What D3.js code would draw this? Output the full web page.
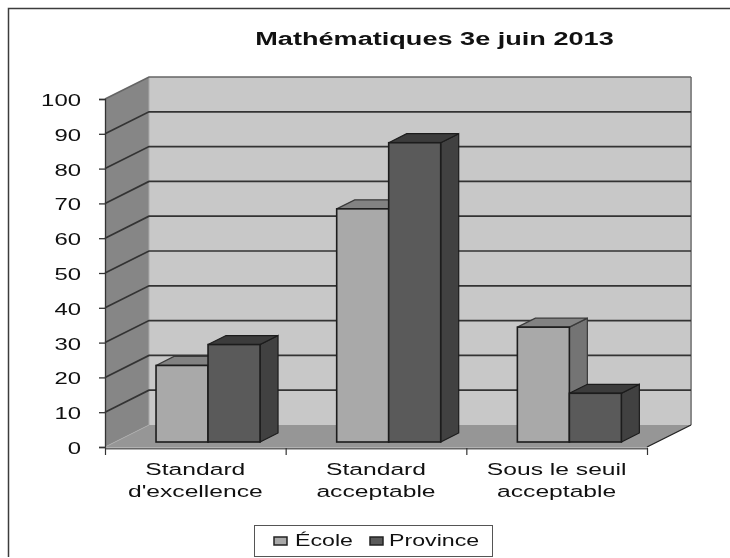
<!DOCTYPE html>
<html><head><meta charset="utf-8">
<script src="https://cdn.jsdelivr.net/npm/d3@7"></script>
<style>
html,body{margin:0;padding:0;background:#fff}
svg{display:block;filter:blur(0.5px)}
text{font-family:"Liberation Sans",Arial,sans-serif;fill:#111}
</style></head><body>
<svg id="c" width="730" height="558"></svg>
<script>
const title = "Mathématiques 3e juin 2013";
const categories = [["Standard","d'excellence"],["Standard","acceptable"],["Sous le seuil","acceptable"]];
const seriesNames = ["École","Province"];
const ecole = [22,67,33];
const province = [28,86,14];
const yTicks = [0,10,20,30,40,50,60,70,80,90,100];
const faces = {
  "École":{front:"#a9a9a9",top:"#828282",side:"#747474",edge:"#3a3a3a"},
  "Province":{front:"#5a5a5a",top:"#3c3c3c",side:"#414141",edge:"#1c1c1c"}
};
const STRETCH = 1.45;
const svg = d3.select("#c");
const y = d3.scaleLinear().domain([0,100]).range([447,99]);
const x = d3.scaleBand().domain(d3.range(categories.length)).range([105,647]);
const depth = {x:44,y:-22};
const barD = {x:18,y:-9};
const barShift = {x:12.7,y:-5};
const barW = 52;
const stretched = (px,py,size,txt,anchor,weight)=>svg.append("text")
  .attr("transform",`translate(${px},${py}) scale(${STRETCH},1)`)
  .attr("text-anchor",anchor).attr("font-size",size).attr("font-weight",weight||"normal").text(txt);

// frame: top and left rules only
svg.append("path").attr("d","M730,8.5H8.5V557").attr("fill","none").attr("stroke","#3c3c3c").attr("stroke-width",1.5);

const poly = (pts,fill,stroke,sw)=>svg.append("polygon").attr("points",pts.map(p=>p.join(",")).join(" "))
  .attr("fill",fill).attr("stroke",stroke||"none").attr("stroke-width",sw||1);
const x0=105,x1=647;
poly([[x0,y(0)],[x0,y(100)],[x0+depth.x,y(100)+depth.y],[x0+depth.x,y(0)+depth.y]],"#868686");
poly([[x0+depth.x,y(0)+depth.y],[x0+depth.x,y(100)+depth.y],[x1+depth.x,y(100)+depth.y],[x1+depth.x,y(0)+depth.y]],"#c8c8c8");
poly([[x0,y(0)],[x0+depth.x,y(0)+depth.y],[x1+depth.x,y(0)+depth.y],[x1,y(0)]],"#969696");
svg.append("path").attr("d",`M${x0+depth.x},${y(0)+depth.y}V${y(100)+depth.y}`).attr("stroke","#aaa").attr("fill","none");
svg.append("path").attr("d",`M${x1+depth.x},${y(0)+depth.y}V${y(100)+depth.y}`).attr("stroke","#8a8a8a").attr("stroke-width",2).attr("fill","none");

yTicks.forEach(t=>{
  if(t===0){
    svg.append("path").attr("d",`M${x0},${y(0)}L${x0+depth.x},${y(0)+depth.y}`).attr("stroke","#aaa").attr("fill","none");
    svg.append("path").attr("d",`M${x1},${y(0)}L${x1+depth.x},${y(0)+depth.y}`).attr("stroke","#222").attr("stroke-width",1.3).attr("fill","none");
    return;
  }
  svg.append("path").attr("d",`M${x0},${y(t)}L${x0+depth.x},${y(t)+depth.y}H${x1+depth.x}`)
    .attr("stroke",t===100?"#666":"#333").attr("stroke-width",1.7).attr("fill","none");
});

const drawBar=(cat,i,v,name)=>{
  const c=faces[name];
  const left=x(cat)+x.bandwidth()/2+barShift.x-barW+i*barW;
  const right=left+barW;
  const b=y(0)+barShift.y, t=y(v)+barShift.y;
  poly([[right,b],[right,t],[right+barD.x,t+barD.y],[right+barD.x,b+barD.y]],c.side,c.edge,1.2);
  poly([[left,t],[left+barD.x,t+barD.y],[right+barD.x,t+barD.y],[right,t]],c.top,c.edge,1.2);
  svg.append("rect").attr("x",left).attr("y",t).attr("width",barW).attr("height",b-t)
    .attr("fill",c.front).attr("stroke","#1c1c1c").attr("stroke-width",1.6);
};
categories.forEach((_,k)=>{ drawBar(k,0,ecole[k],"École"); drawBar(k,1,province[k],"Province"); });

const yAxis=d3.axisLeft(y).tickValues(yTicks).tickSize(6).tickFormat("");
const gy=svg.append("g").attr("transform",`translate(${x0},0)`).call(yAxis);
gy.selectAll("line,path").attr("stroke","#333").attr("stroke-width",1.3);
yTicks.forEach(t=>stretched(81,y(t)+7,16.5,String(t),"end"));

const xTickScale=d3.scaleLinear().domain([0,categories.length]).range([x0,x1]);
const xAxis=d3.axisBottom(xTickScale).tickValues(d3.range(categories.length+1)).tickSize(7).tickFormat("").tickSizeOuter(0);
const gx=svg.append("g").attr("transform",`translate(0,${y(0)+1})`).call(xAxis);
gx.selectAll("line,path").attr("stroke","#666").attr("stroke-width",2);
gx.selectAll("line").attr("stroke","#333").attr("stroke-width",1.2);

categories.forEach((ls,k)=>ls.forEach((l,j)=>
  stretched(x(k)+x.bandwidth()/2,475+j*22,17,l,"middle")));

stretched(434.5,45,18.7,title,"middle","bold");

svg.append("rect").attr("x",254.5).attr("y",525.5).attr("width",238).attr("height",31)
  .attr("fill","#fff").attr("stroke","#555");
const lx=[274,370], tx=[295,389];
seriesNames.forEach((n,i)=>{
  svg.append("rect").attr("x",lx[i]).attr("y",537).attr("width",13).attr("height",8)
    .attr("fill",faces[n].front).attr("stroke","#222").attr("stroke-width",1.5);
  stretched(tx[i],546,16,n,"start");
});
</script></body></html>
